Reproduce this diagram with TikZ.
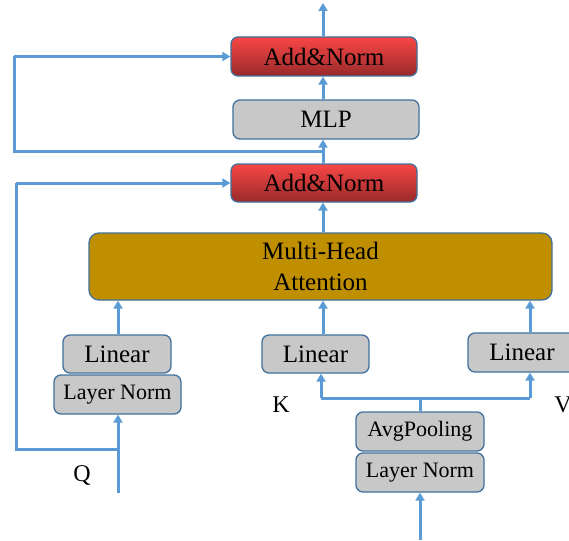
\documentclass[tikz,border=0pt]{standalone}
\usepackage{fontspec}
\setmainfont{Liberation Serif}
\usetikzlibrary{arrows.meta,calc}
\definecolor{lnc}{HTML}{5B9BD5}
\definecolor{bdc}{HTML}{41719C}
\definecolor{grayf}{HTML}{C8C8C8}
\definecolor{goldf}{HTML}{BF8F00}
\definecolor{redt}{HTML}{F94646}
\definecolor{redm}{HTML}{E63C3C}
\definecolor{redb}{HTML}{982A2A}
\begin{document}
\begin{tikzpicture}[x=1pt,y=-1pt,
  box/.style={draw=bdc, line width=1.3pt, rounded corners=7pt, inner sep=0pt, align=center, font=\fontsize{25}{31}\selectfont},
  graybox/.style={box, fill=grayf},
  smallbox/.style={graybox, font=\fontsize{22}{26}\selectfont},
  redbox/.style={box, top color=redt, middle color=redm, bottom color=redb},
  goldbox/.style={box, fill=goldf, rounded corners=10pt},
  conn/.style={draw=lnc, line width=3pt},
  arr/.style={conn, -{Triangle[width=9pt,length=8pt]}},
  lbl/.style={font=\fontsize{24}{28}\selectfont}
]
\clip (0,0) rectangle (569,540);
\fill[white] (0,0) rectangle (569,540);

% nodes
\node[redbox, minimum width=186pt, minimum height=39pt] (an1) at (324,56.5) {Add\&Norm};
\node[graybox, minimum width=186pt, minimum height=39pt] (mlp) at (326,119.5) {MLP};
\node[redbox, minimum width=186pt, minimum height=38pt] (an2) at (324,183) {Add\&Norm};
\node[goldbox, minimum width=463pt, minimum height=67pt] (mha) at (320.5,266.5) {Multi-Head\\Attention};
\node[graybox, minimum width=108pt, minimum height=38pt] (linQ) at (117,354) {Linear};
\node[smallbox, minimum width=127pt, minimum height=39pt] (lnQ) at (117.5,394.5) {Layer Norm};
\node[graybox, minimum width=107pt, minimum height=38pt] (linK) at (315.5,354) {Linear};
\node[graybox, minimum width=108pt, minimum height=39pt] (linV) at (522,352.5) {Linear};
\node[smallbox, minimum width=128pt, minimum height=39pt] (avg) at (420,431.5) {AvgPooling};
\node[smallbox, minimum width=128pt, minimum height=39pt] (lnB) at (420,472.5) {Layer Norm};

\node[lbl] (Q) at (82,475) {Q};
\node[lbl] (K) at (281,405) {K};
\node[lbl] (V) at (563,405) {V};

% coordinates
\coordinate (cx) at (323,0);
\coordinate (qx) at (118,0);
\coordinate (vx) at (530,0);
\coordinate (out) at (323,3);
\coordinate (s1) at (323,151);
\coordinate (s1l) at (14,151);
\coordinate (s2) at (118,449);
\coordinate (s2l) at (16,449);
\coordinate (qin) at (118,493);
\coordinate (bin) at (420,540);
\coordinate (br) at (420,398);
\coordinate (brl) at (321,398);
\coordinate (brr) at (530,398);

% connectors
\draw[arr] (an1.north -| cx) -- (out);
\draw[arr] (mlp.north -| cx) -- (an1.south -| cx);
\draw[arr] (an2.north -| cx) -- (mlp.south -| cx);
\draw[conn] (s1) -- (s1l) -- (s1l |- an1.west);
\draw[arr] (s1l |- an1.west) -- (an1.west);
\draw[arr] (mha.north -| cx) -- (an2.south -| cx);
\draw[arr] (linQ.north -| qx) -- (mha.south -| qx);
\draw[arr] (linK.north -| cx) -- (mha.south -| cx);
\draw[arr] (linV.north -| vx) -- (mha.south -| vx);
\draw[arr] (qin) -- (lnQ.south -| qin);
\draw[conn] (s2) -- (s2l) -- (s2l |- an2.west);
\draw[arr] (s2l |- an2.west) -- (an2.west);
\draw[arr] (bin) -- (lnB.south);
\draw[conn] (avg.north) -- (br);
\draw[conn] (brl) -- (brr);
\draw[arr] (brl) -- (linK.south -| brl);
\draw[arr] (brr) -- (linV.south -| brr);
\end{tikzpicture}
\end{document}
